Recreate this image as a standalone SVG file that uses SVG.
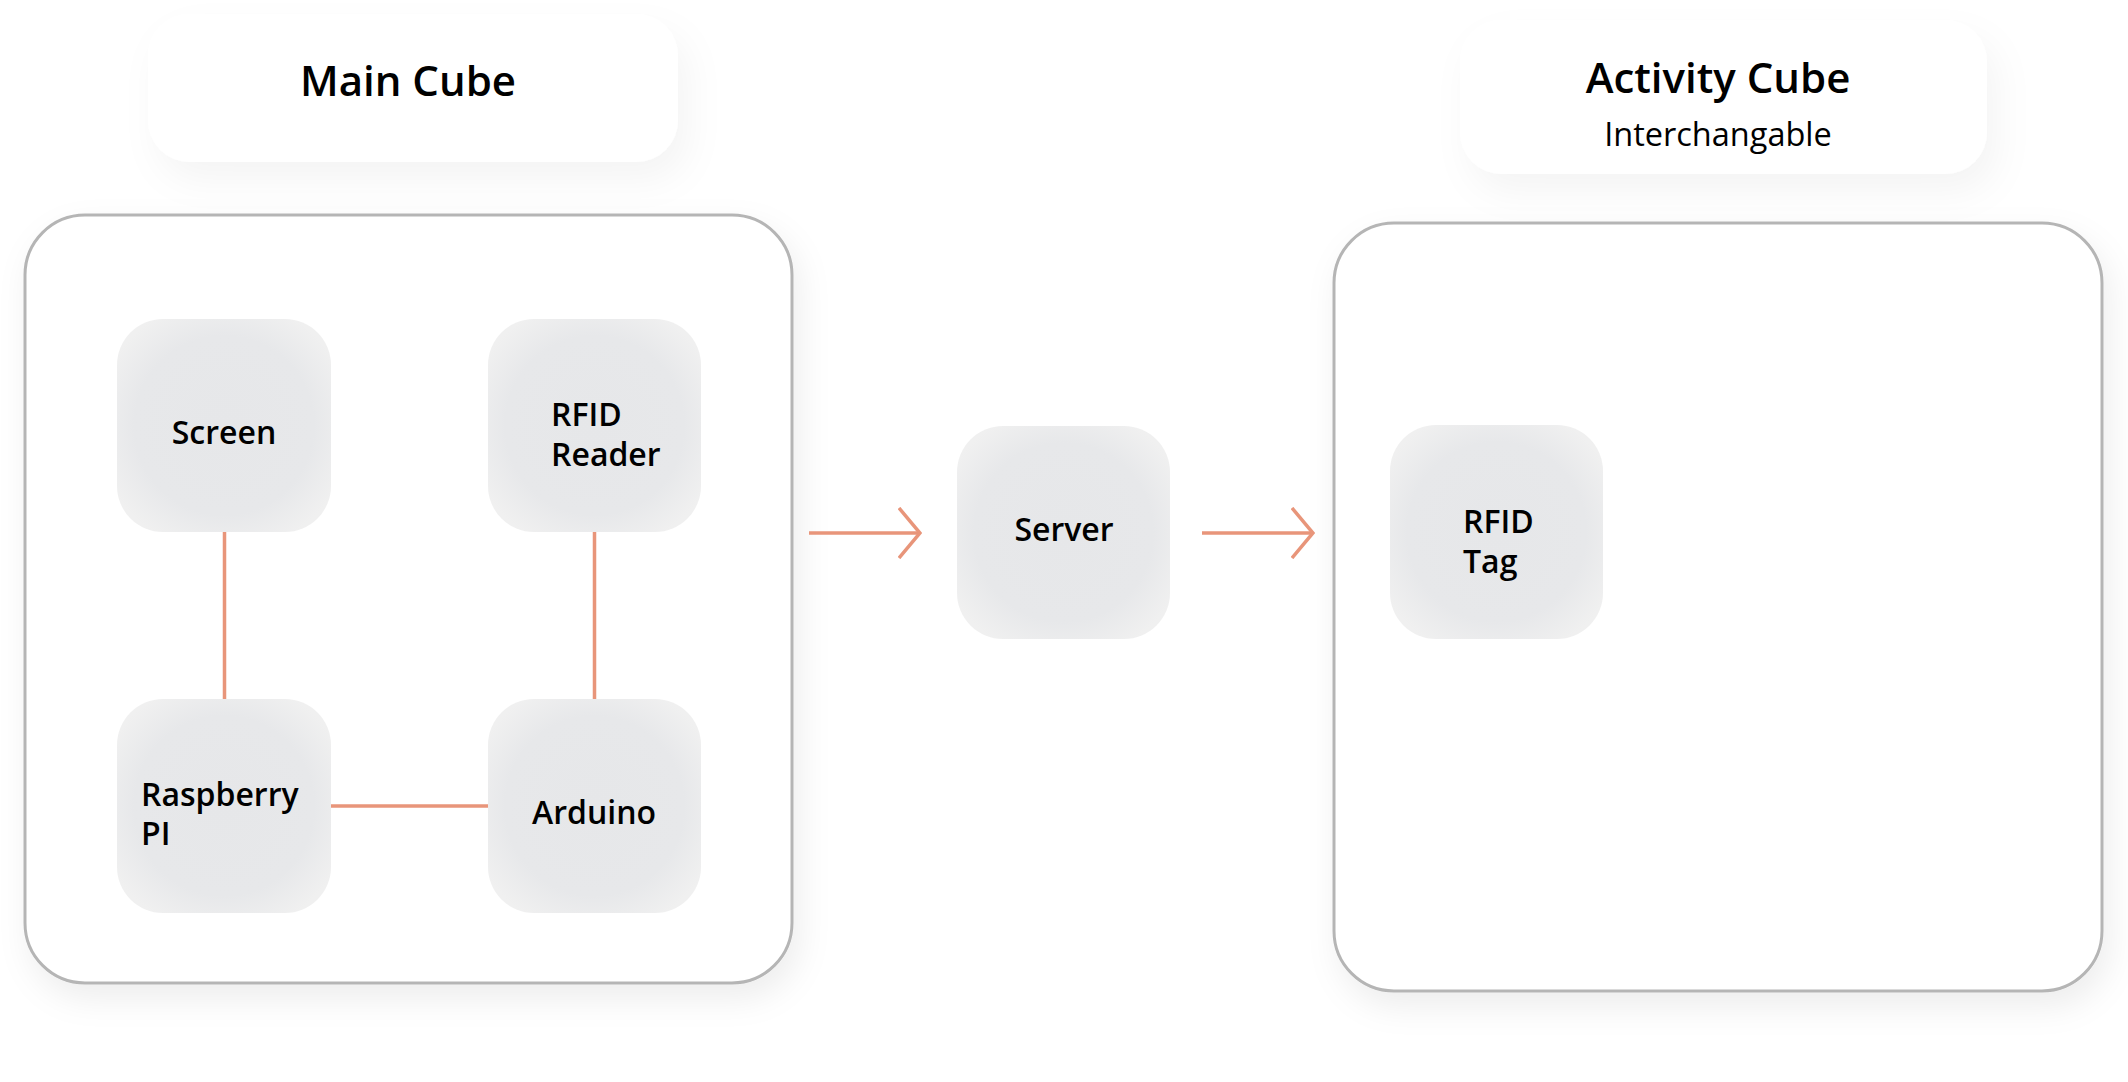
<svg xmlns="http://www.w3.org/2000/svg" width="2128" height="1082" viewBox="0 0 2128 1082">
  <style>
    .title { font-family: "Open Sans", "Noto Sans", "Liberation Sans", sans-serif; font-weight: 600; font-size: 42px; fill: #000; }
    .sub { font-family: "Open Sans", "Noto Sans", "Liberation Sans", sans-serif; font-weight: 400; font-size: 32.5px; fill: #000; }
    .label { font-family: "Open Sans", "Noto Sans", "Liberation Sans", sans-serif; font-weight: 600; font-size: 32px; fill: #000; }
    .tbox { fill: #ffffff; }
    .cube { fill: #ffffff; stroke: #b5b5b5; stroke-width: 3; }
    .node { fill: url(#nodeGrad); }
    .conn { stroke: #e8957a; stroke-width: 3.5; fill: none; }
  </style>
  <defs>
    <radialGradient id="nodeGrad" cx="0.5" cy="0.5" r="0.6">
      <stop offset="0" stop-color="#e6e7e9"/>
      <stop offset="0.7" stop-color="#e7e8ea"/>
      <stop offset="1" stop-color="#f0f0f0"/>
    </radialGradient>
    <filter id="shadow" x="-20%" y="-20%" width="140%" height="150%">
      <feDropShadow dx="6" dy="14" stdDeviation="16" flood-color="#000" flood-opacity="0.07"/>
    </filter>
    <filter id="tshadow" x="-20%" y="-30%" width="140%" height="170%">
      <feDropShadow dx="10" dy="18" stdDeviation="18" flood-color="#000" flood-opacity="0.045"/>
    </filter>
    <marker id="chev" viewBox="0 0 24 52" refX="22" refY="26" markerWidth="24" markerHeight="52" markerUnits="userSpaceOnUse" orient="auto">
      <path d="M1,1 L22,26 L1,51" fill="none" stroke="#e8957a" stroke-width="3.5"/>
    </marker>
  </defs>
  <rect width="2128" height="1082" fill="#ffffff"/>

  <g id="main-cube-title">
    <rect class="tbox" x="148" y="14" width="530" height="148" rx="42" filter="url(#tshadow)"/>
    <text class="title" x="408" y="96" text-anchor="middle">Main Cube</text>
  </g>
  <g id="activity-cube-title">
    <rect class="tbox" x="1460" y="20" width="527" height="154" rx="42" filter="url(#tshadow)"/>
    <text class="title" x="1718" y="93" text-anchor="middle">Activity Cube</text>
    <text class="sub" x="1718" y="146" text-anchor="middle">Interchangable</text>
  </g>

  <g id="main-cube">
    <rect class="cube" x="25" y="215" width="767" height="768" rx="60" filter="url(#shadow)"/>
  </g>
  <g id="activity-cube">
    <rect class="cube" x="1334" y="223" width="768" height="768" rx="60" filter="url(#shadow)"/>
  </g>

  <g id="connectors">
    <line class="conn" x1="224.5" y1="532" x2="224.5" y2="699"/>
    <line class="conn" x1="594.5" y1="532" x2="594.5" y2="699"/>
    <line class="conn" x1="331" y1="806" x2="488" y2="806"/>
    <line class="conn" x1="809" y1="533" x2="920" y2="533" marker-end="url(#chev)"/>
    <line class="conn" x1="1202" y1="533" x2="1313" y2="533" marker-end="url(#chev)"/>
  </g>

  <g id="screen">
    <rect class="node" x="117" y="319" width="214" height="213" rx="46"/>
    <text class="label" x="224" y="444" text-anchor="middle">Screen</text>
  </g>
  <g id="rfid-reader">
    <rect class="node" x="488" y="319" width="213" height="213" rx="46"/>
    <text class="label" x="551" y="426">RFID</text>
    <text class="label" x="551" y="466">Reader</text>
  </g>
  <g id="raspberry-pi">
    <rect class="node" x="117" y="699" width="214" height="214" rx="46"/>
    <text class="label" x="141" y="806">Raspberry</text>
    <text class="label" x="141" y="845">PI</text>
  </g>
  <g id="arduino">
    <rect class="node" x="488" y="699" width="213" height="214" rx="46"/>
    <text class="label" x="594" y="824" text-anchor="middle">Arduino</text>
  </g>
  <g id="server">
    <rect class="node" x="957" y="426" width="213" height="213" rx="46"/>
    <text class="label" x="1064" y="541" text-anchor="middle">Server</text>
  </g>
  <g id="rfid-tag">
    <rect class="node" x="1390" y="425" width="213" height="214" rx="46"/>
    <text class="label" x="1463" y="533">RFID</text>
    <text class="label" x="1463" y="573">Tag</text>
  </g>
</svg>
